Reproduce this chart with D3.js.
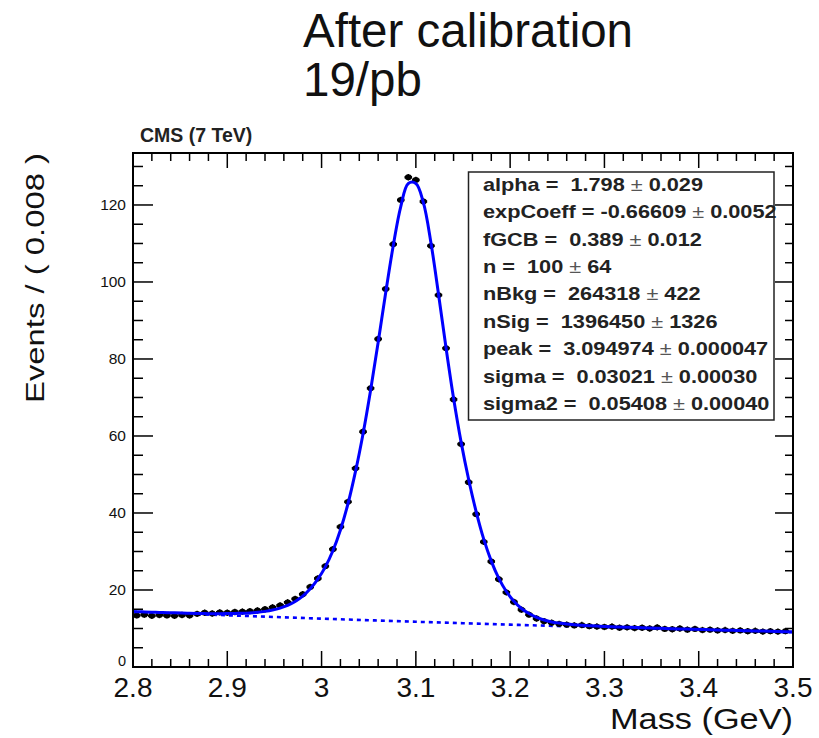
<!DOCTYPE html>
<html>
<head>
<meta charset="utf-8">
<script src="https://cdn.jsdelivr.net/npm/d3@7"></script>
<style>
  html, body { margin: 0; padding: 0; background: #fff; }
  svg { display: block; }
  text { font-family: "Liberation Sans", Arial, Helvetica, sans-serif; white-space: pre; }
</style>
</head>
<body>
<svg id="chart" width="819" height="738"></svg>
<script>
// ---------------- data ----------------
const titleLines = ["After calibration", "19/pb"];
const experimentLabel = "CMS (7 TeV)";
const xLabel = "Mass (GeV)";
const yLabel = "Events / ( 0.008 )";
const xTickValues = [2.8, 2.9, 3.0, 3.1, 3.2, 3.3, 3.4, 3.5];
const xTickLabels = ["2.8", "2.9", "3", "3.1", "3.2", "3.3", "3.4", "3.5"];
const yTickValues = [0, 20, 40, 60, 80, 100, 120];
const yTickLabels = ["0", "20", "40", "60", "80", "100", "120"];

// bin centres (bin width 0.008 GeV)
const massBins = [
  2.804, 2.812, 2.820, 2.828, 2.836, 2.844, 2.852, 2.860, 2.868, 2.876,
  2.884, 2.892, 2.900, 2.908, 2.916, 2.924, 2.932, 2.940, 2.948, 2.956,
  2.964, 2.972, 2.980, 2.988, 2.996, 3.004, 3.012, 3.020, 3.028, 3.036,
  3.044, 3.052, 3.060, 3.068, 3.076, 3.084, 3.092, 3.100, 3.108, 3.116,
  3.124, 3.132, 3.140, 3.148, 3.156, 3.164, 3.172, 3.180, 3.188, 3.196,
  3.204, 3.212, 3.220, 3.228, 3.236, 3.244, 3.252, 3.260, 3.268, 3.276,
  3.284, 3.292, 3.300, 3.308, 3.316, 3.324, 3.332, 3.340, 3.348, 3.356,
  3.364, 3.372, 3.380, 3.388, 3.396, 3.404, 3.412, 3.420, 3.428, 3.436,
  3.444, 3.452, 3.460, 3.468, 3.476, 3.484, 3.492
];
const binWidth = 0.008;

// measured events per bin
const eventCounts = [
  13.4, 13.6, 13.3, 13.5, 13.4, 13.3, 13.5, 13.4, 13.8, 14.1,
  13.9, 14.2, 14.1, 14.3, 14.4, 14.5, 14.7, 15.0, 15.5, 16.0,
  16.8, 17.7, 18.9, 20.8, 23.0, 26.2, 30.6, 36.4, 42.9, 51.6,
  61.1, 72.4, 85.2, 98.2, 109.8, 121.3, 127.2, 126.5, 120.9, 109.4,
  96.6, 82.8, 69.5, 57.9, 48.0, 39.7, 32.5, 27.4, 22.8, 19.4,
  16.9, 14.9, 13.6, 12.6, 11.9, 11.5, 11.2, 11.0, 10.8, 10.9,
  10.6, 10.5, 10.4, 10.5, 10.2, 10.3, 10.1, 10.2, 10.0, 10.3,
  9.9, 9.8, 10.0, 9.7, 9.9, 9.6, 9.7, 9.5, 9.6, 9.4,
  9.5, 9.3, 9.4, 9.2, 9.3, 9.2, 9.3
];

// total fit (signal + background) sampled along the mass axis
const fitMass = [
  2.800, 2.804, 2.812, 2.820, 2.828, 2.836, 2.844, 2.852, 2.860, 2.868, 2.876,
  2.884, 2.892, 2.900, 2.908, 2.916, 2.924, 2.932, 2.940, 2.948, 2.956,
  2.964, 2.972, 2.980, 2.988, 2.996, 3.004, 3.012, 3.020, 3.028, 3.036,
  3.044, 3.052, 3.060, 3.068, 3.076, 3.084, 3.092, 3.100, 3.108, 3.116,
  3.124, 3.132, 3.140, 3.148, 3.156, 3.164, 3.172, 3.180, 3.188, 3.196,
  3.204, 3.212, 3.220, 3.228, 3.236, 3.244, 3.252, 3.260, 3.268, 3.276,
  3.284, 3.292, 3.300, 3.308, 3.316, 3.324, 3.332, 3.340, 3.348, 3.356,
  3.364, 3.372, 3.380, 3.388, 3.396, 3.404, 3.412, 3.420, 3.428, 3.436,
  3.444, 3.452, 3.460, 3.468, 3.476, 3.484, 3.492, 3.500
];
const fitTotal = [
  14.40, 14.36, 14.30, 14.24, 14.18, 14.12, 14.06, 14.00, 13.95, 13.90, 13.87,
  13.85, 13.85, 13.87, 13.90, 13.96, 14.05, 14.20, 14.45, 14.80, 15.30,
  16.00, 17.00, 18.40, 20.30, 22.80, 26.00, 30.20, 35.60, 42.40, 50.80,
  60.60, 71.90, 84.30, 97.20, 109.40, 119.60, 125.60, 125.60, 120.60, 110.20,
  96.90, 82.90, 69.80, 58.40, 48.70, 40.30, 33.20, 27.50, 23.00, 19.60,
  17.10, 15.20, 13.90, 12.90, 12.20, 11.70, 11.40, 11.15, 10.98, 10.85,
  10.74, 10.64, 10.55, 10.47, 10.40, 10.33, 10.26, 10.20, 10.14, 10.08,
  10.02, 9.96, 9.90, 9.84, 9.78, 9.72, 9.67, 9.62, 9.57, 9.52,
  9.47, 9.42, 9.37, 9.32, 9.27, 9.22, 9.17, 9.13
];

// background component (dashed)
const bkgMass = [2.80, 2.85, 2.90, 2.95, 3.00, 3.05, 3.10, 3.15, 3.20, 3.25, 3.30, 3.35, 3.40, 3.45, 3.50];
const bkgValues = [14.35, 13.88, 13.43, 12.99, 12.56, 12.15, 11.75, 11.37, 11.00, 10.64, 10.29, 9.95, 9.63, 9.31, 9.01];

// fit parameter box
const paramNames  = ["alpha", "expCoeff", "fGCB", "n", "nBkg", "nSig", "peak", "sigma", "sigma2"];
const paramValues = [" 1.798", "-0.66609", " 0.389", " 100", " 264318", " 1396450", " 3.094974", " 0.03021", " 0.05408"];
const paramErrors = ["0.029", "0.0052", "0.012", "64", "422", "1326", "0.000047", "0.00030", "0.00040"];

// ---------------- drawing ----------------
const svg = d3.select("#chart");
const frame = { left: 133, right: 793, top: 153, bottom: 667 };

const x = d3.scaleLinear().domain([2.8, 3.5]).range([frame.left, frame.right]);
const y = d3.scaleLinear().domain([0, 133.5]).range([frame.bottom, frame.top]);

// title
svg.append("text").attr("x", 303).attr("y", 47)
  .attr("font-size", 47.5).attr("fill", "#111").text(titleLines[0]);
svg.append("text").attr("x", 303).attr("y", 96)
  .attr("font-size", 47.5).attr("fill", "#111").text(titleLines[1]);

// CMS label
svg.append("text").attr("x", 140).attr("y", 142)
  .attr("font-size", 19.5).attr("font-weight", "bold").attr("fill", "#222")
  .text(experimentLabel);

svg.append("defs").append("clipPath").attr("id", "plotclip")
  .append("rect").attr("x", frame.left).attr("y", frame.top)
  .attr("width", frame.right - frame.left).attr("height", frame.bottom - frame.top);

const plot = svg.append("g").attr("clip-path", "url(#plotclip)");

// background dashed line
const bkgLine = d3.line().x((d, i) => x(bkgMass[i])).y(d => y(d)).curve(d3.curveMonotoneX);
plot.append("path").datum(bkgValues)
  .attr("d", bkgLine)
  .attr("fill", "none").attr("stroke", "#0000ff")
  .attr("stroke-width", 2.6).attr("stroke-dasharray", "4,4");

// data points
const pts = plot.append("g");
massBins.forEach((m, i) => {
  const v = eventCounts[i];
  pts.append("line")
    .attr("x1", x(m - binWidth / 2)).attr("x2", x(m + binWidth / 2))
    .attr("y1", y(v)).attr("y2", y(v))
    .attr("stroke", "#000").attr("stroke-width", 2.6);
  pts.append("line")
    .attr("x1", x(m)).attr("x2", x(m))
    .attr("y1", y(v) - 3.2).attr("y2", y(v) + 3.2)
    .attr("stroke", "#000").attr("stroke-width", 1.4);
  pts.append("ellipse")
    .attr("cx", x(m)).attr("cy", y(v)).attr("rx", 3.4).attr("ry", 2.9).attr("fill", "#000");
});

// total fit curve
const fitLine = d3.line().x((d, i) => x(fitMass[i])).y(d => y(d)).curve(d3.curveCatmullRom.alpha(0.5));
plot.append("path").datum(fitTotal)
  .attr("d", fitLine)
  .attr("fill", "none").attr("stroke", "#0000ff").attr("stroke-width", 3);

// axes (ROOT style ticks)
const axes = svg.append("g").attr("stroke", "#000");
const xMinor = d3.range(0, 36).map(i => 2.8 + i * 0.02);
xMinor.forEach(v => {
  const isMajor = Math.abs(Math.round(v * 10) - v * 10) < 1e-6;
  const lenB = isMajor ? 16 : 8;
  const lenT = isMajor ? 15 : 8;
  axes.append("line").attr("x1", x(v)).attr("x2", x(v))
    .attr("y1", frame.bottom).attr("y2", frame.bottom - lenB).attr("stroke-width", 1.5);
  axes.append("line").attr("x1", x(v)).attr("x2", x(v))
    .attr("y1", frame.top).attr("y2", frame.top + lenT).attr("stroke-width", 1.5);
});
const yMinor = d3.range(0, 27).map(i => i * 5);
yMinor.forEach(v => {
  const isMajor = v % 20 === 0;
  const lenL = isMajor ? 20 : 10;
  const lenR = isMajor ? 18 : 8;
  axes.append("line").attr("x1", frame.left).attr("x2", frame.left + lenL)
    .attr("y1", y(v)).attr("y2", y(v)).attr("stroke-width", 1.5);
  axes.append("line").attr("x1", frame.right).attr("x2", frame.right - lenR)
    .attr("y1", y(v)).attr("y2", y(v)).attr("stroke-width", 1.5);
});
axes.append("rect").attr("x", frame.left).attr("y", frame.top)
  .attr("width", frame.right - frame.left).attr("height", frame.bottom - frame.top)
  .attr("fill", "none").attr("stroke-width", 2);

// tick labels
xTickValues.forEach((v, i) => {
  svg.append("text").attr("x", x(v)).attr("y", 697)
    .attr("text-anchor", "middle").attr("font-size", 28).attr("fill", "#111")
    .text(xTickLabels[i]);
});
yTickValues.forEach((v, i) => {
  svg.append("text").attr("x", 126).attr("y", y(v) + (v === 0 ? -1 : 5.5))
    .attr("text-anchor", "end").attr("font-size", v === 0 ? 14.5 : 15.5).attr("fill", "#111")
    .text(yTickLabels[i]);
});

// axis titles
svg.append("text").attr("x", 793).attr("y", 729)
  .attr("text-anchor", "end").attr("font-size", 30)
  .attr("textLength", 183).attr("lengthAdjust", "spacingAndGlyphs")
  .attr("fill", "#111").text(xLabel);
svg.append("text")
  .attr("transform", "translate(44,278) rotate(-90)")
  .attr("text-anchor", "middle").attr("font-size", 26)
  .attr("textLength", 250).attr("lengthAdjust", "spacingAndGlyphs")
  .attr("fill", "#111").text(yLabel);

// parameter box
svg.append("rect").attr("x", 468.5).attr("y", 172).attr("width", 305.5).attr("height", 248)
  .attr("fill", "#fff").attr("stroke", "#222").attr("stroke-width", 1.5);
const rowY = d3.range(paramNames.length).map(i => 190.7 + i * 27.4);
paramNames.forEach((name, i) => {
  const g = svg.append("g").attr("transform", `translate(483,${rowY[i]}) scale(1.18,1)`);
  const t = g.append("text").attr("font-size", 18.4).attr("font-weight", "bold").attr("fill", "#222");
  t.append("tspan").text(`${name} = ${paramValues[i]} `);
  t.append("tspan").attr("font-weight", "normal").attr("fill", "#555").text("±");
  t.append("tspan").text(` ${paramErrors[i]}`);
});
</script>
</body>
</html>
